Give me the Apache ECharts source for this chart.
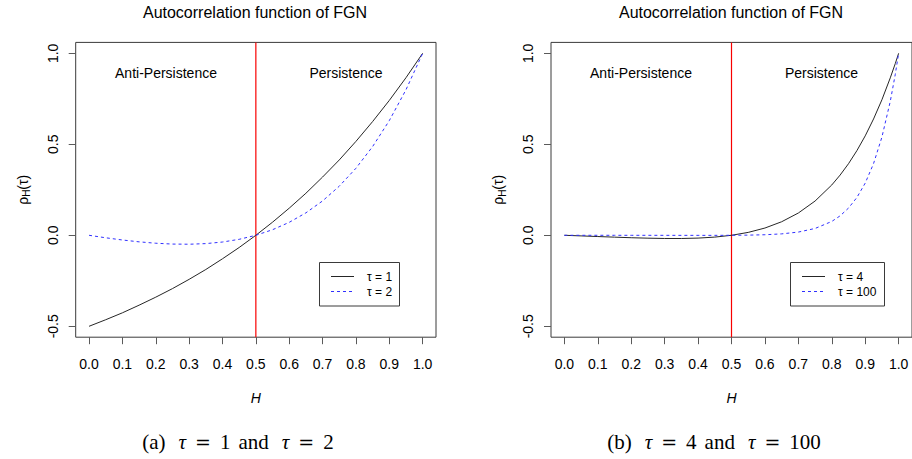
<!DOCTYPE html>
<html>
<head>
<meta charset="utf-8">
<script src="https://cdn.jsdelivr.net/npm/echarts@6/dist/echarts.min.js"></script>
<style>
  html, body { margin: 0; padding: 0; background: #ffffff; }
  #chart { width: 912px; height: 459px; }
</style>
</head>
<body>
<div id="chart"></div>
<script>
// Hurst exponent grid for panel (a)
const hGridA = [0, 0.05, 0.1, 0.15, 0.2, 0.25, 0.3, 0.35, 0.4, 0.45, 0.5,
                0.55, 0.6, 0.65, 0.7, 0.75, 0.8, 0.85, 0.9, 0.95, 1];
// FGN autocorrelation at lag 1 and lag 2
const rhoTau1 = [-0.5, -0.464, -0.426, -0.384, -0.340, -0.293, -0.242, -0.188, -0.129, -0.067, 0,
                 0.072, 0.149, 0.231, 0.320, 0.414, 0.516, 0.625, 0.741, 0.866, 1];
const rhoTau2 = [0, -0.0137, -0.0258, -0.0360, -0.0436, -0.0482, -0.0491, -0.0457, -0.0370, -0.0221, 0,
                 0.0306, 0.0712, 0.1233, 0.1888, 0.2697, 0.3683, 0.4875, 0.6301, 0.7997, 1];

// Hurst exponent grid for panel (b), denser where the curves steepen
const hGridB = [0, 0.05, 0.1, 0.15, 0.2, 0.25, 0.3, 0.35, 0.4, 0.45, 0.5,
                0.55, 0.6, 0.65, 0.7, 0.75, 0.8, 0.825, 0.85, 0.875, 0.9,
                0.925, 0.95, 0.975, 0.99, 1];
// FGN autocorrelation at lag 4 and lag 100
const rhoTau4 = [0, -0.0033, -0.0068, -0.0102, -0.0134, -0.0159, -0.0175, -0.0176, -0.0154, -0.0099, 0,
                 0.0159, 0.0399, 0.0744, 0.1225, 0.1882, 0.2765, 0.331, 0.3933, 0.4648, 0.5463,
                 0.6393, 0.7447, 0.8651, 0.9438, 1];
const rhoTau100 = [0, 0, 0, 0, -0.0001, -0.0001, -0.0002, -0.0003, -0.0003, -0.0003, 0,
                   0.0009, 0.0030, 0.0078, 0.0177, 0.0375, 0.0761, 0.1070, 0.1495, 0.2075, 0.2866,
                   0.3941, 0.5395, 0.7358, 0.8848, 1];

// Axis ticks
const hTicks = [0, 0.1, 0.2, 0.3, 0.4, 0.5, 0.6, 0.7, 0.8, 0.9, 1.0];
const rhoTicks = [-0.5, 0, 0.5, 1.0];

// Texts
const panelTitle = 'Autocorrelation function of FGN';
const regionNames = ['Anti-Persistence', 'Persistence'];
const lagNamesA = ['\u03c4 = 1', '\u03c4 = 2'];
const lagNamesB = ['\u03c4 = 4', '\u03c4 = 100'];
const captionLagsA = ['(a)', '1', '2'];
const captionLagsB = ['(b)', '4', '100'];

// H = 0.5 separates anti-persistent from persistent noise
const boundaryH = 0.5;

// Axis extents (data range padded by 4% on each side)
const H_MIN = -0.04, H_MAX = 1.04;
const RHO_MIN = -0.56, RHO_MAX = 1.06;

const SANS = '"Liberation Sans", Arial, Helvetica, sans-serif';
const SERIF = '"Liberation Serif", "Times New Roman", serif';
const BOUNDARY_RED = '#f80000';
const solidStyle = () => ({ color: '#262626', width: 1, type: 'solid' });
const dashStyle = () => ({ color: '#3030ff', width: 1, type: [3, 3] });
const frameColor = '#3a3a3a';
const tickColor = '#5a5a5a';

const chart = echarts.init(document.getElementById('chart'), null, { renderer: 'svg' });

function pairs(xs, ys) { return xs.map((x, i) => [x, ys[i]]); }

function makeGrid(left, width) {
  return {
    left: left, top: 42.4, width: width, height: 294.8,
    show: true, borderColor: frameColor, borderWidth: 1,
    backgroundColor: 'transparent', containLabel: false, outerBoundsMode: 'none'
  };
}

function makeXAxis(gridIndex) {
  return {
    type: 'value', gridIndex: gridIndex, min: H_MIN, max: H_MAX,
    name: 'H', nameLocation: 'middle', nameGap: 54,
    nameTextStyle: { fontFamily: SANS, fontSize: 14, fontStyle: 'italic', color: '#000' },
    axisLine: { show: false, onZero: false },
    axisTick: { show: true, customValues: hTicks, length: 7, lineStyle: { color: tickColor, width: 1 } },
    axisLabel: { customValues: hTicks, margin: 20, fontFamily: SANS, fontSize: 14, color: '#000',
                 formatter: v => v.toFixed(1) },
    splitLine: { show: false }
  };
}

function makeYAxis(gridIndex) {
  return {
    type: 'value', gridIndex: gridIndex, min: RHO_MIN, max: RHO_MAX,
    name: '{r|\u03c1}{s|H}{r|(\u03c4)}', nameLocation: 'middle', nameGap: 44,
    nameTextStyle: {
      color: '#000',
      rich: {
        r: { fontFamily: SANS, fontSize: 14, lineHeight: 18, color: '#000' },
        s: { fontFamily: SANS, fontSize: 10, lineHeight: 11, verticalAlign: 'bottom', color: '#000' }
      }
    },
    axisLine: { show: false, onZero: false },
    axisTick: { show: true, customValues: rhoTicks, length: 7, lineStyle: { color: tickColor, width: 1 } },
    axisLabel: { customValues: rhoTicks, rotate: 90, margin: 16, fontFamily: SANS, fontSize: 14, color: '#000',
                 formatter: v => v.toFixed(1) },
    splitLine: { show: false }
  };
}

// Vertical red rule at H = 0.5 spanning the full plotting region
function boundarySeries(idx) {
  return {
    type: 'line', xAxisIndex: idx, yAxisIndex: idx,
    data: [[boundaryH, RHO_MIN], [boundaryH, RHO_MAX]],
    showSymbol: false, symbol: 'none', silent: true, z: 2,
    lineStyle: { color: BOUNDARY_RED, width: 1.2, type: 'solid' }
  };
}

function makeSeries(idx, xs, ys, style) {
  return {
    type: 'line', xAxisIndex: idx, yAxisIndex: idx,
    data: pairs(xs, ys), showSymbol: false, symbol: 'none', smooth: false,
    lineStyle: style, silent: true, z: 3
  };
}

function legendBox(x, y, w, names) {
  const lx1 = x + 11.5, lx2 = x + 34.5, tx = x + 47.5;
  const y1 = y + 14, y2 = y + 29;
  return [
    { type: 'rect', shape: { x: x, y: y, width: w, height: 43.5 },
      style: { fill: '#ffffff', stroke: frameColor, lineWidth: 1 }, z: 20 },
    { type: 'line', shape: { x1: lx1, y1: y1, x2: lx2, y2: y1 },
      style: { stroke: solidStyle().color, lineWidth: 1 }, z: 21 },
    { type: 'line', shape: { x1: lx1, y1: y2, x2: lx2, y2: y2 },
      style: { stroke: dashStyle().color, lineWidth: 1, lineDash: [3, 3] }, z: 21 },
    { type: 'text', x: tx, y: y1, z: 21,
      style: { text: names[0], fontFamily: SANS, fontSize: 12, fill: '#000', verticalAlign: 'middle' } },
    { type: 'text', x: tx, y: y2, z: 21,
      style: { text: names[1], fontFamily: SANS, fontSize: 12, fill: '#000', verticalAlign: 'middle' } }
  ];
}

function regionText(x, text) {
  return { type: 'text', x: x, y: 73, z: 5,
           style: { text: text, fontFamily: SANS, fontSize: 14, fill: '#000', align: 'center', verticalAlign: 'middle' } };
}

const captionRich = {
  r: { fontFamily: SERIF, fontSize: 21, color: '#000' },
  t: { fontFamily: SERIF, fontSize: 21, fontStyle: 'italic', color: '#000', padding: [0, 0, 0, 13] },
  e: { fontFamily: '"DejaVu Serif", serif', fontSize: 19, color: '#000', padding: [0, 9, 0, 9] },
  w: { fontFamily: SERIF, fontSize: 21, color: '#000', padding: [0, 0, 0, 8] }
};

function caption(x, parts) {
  const txt = '{r|' + parts[0] + '}{t|\u03c4}{e|=}{r|' + parts[1] + '}{w|and}{t|\u03c4}{e|=}{r|' + parts[2] + '}';
  return { type: 'text', x: x, y: 442, z: 5,
           style: { text: txt, rich: captionRich, align: 'center', verticalAlign: 'middle' } };
}

const titleStyle = { fontFamily: SANS, fontSize: 16, fontWeight: 'normal', color: '#000' };

chart.setOption({
  animation: false,
  backgroundColor: '#ffffff',
  title: [
    { text: panelTitle, left: 255, top: 4, padding: 0, textAlign: 'center', textStyle: titleStyle },
    { text: panelTitle, left: 731, top: 4, padding: 0, textAlign: 'center', textStyle: titleStyle }
  ],
  grid: [makeGrid(75.7, 360.3), makeGrid(551, 361)],
  xAxis: [makeXAxis(0), makeXAxis(1)],
  yAxis: [makeYAxis(0), makeYAxis(1)],
  series: [
    boundarySeries(0),
    makeSeries(0, hGridA, rhoTau1, solidStyle()),
    makeSeries(0, hGridA, rhoTau2, dashStyle()),
    boundarySeries(1),
    makeSeries(1, hGridB, rhoTau4, solidStyle()),
    makeSeries(1, hGridB, rhoTau100, dashStyle())
  ],
  graphic: [
    regionText(166, regionNames[0]),
    regionText(346, regionNames[1]),
    regionText(641, regionNames[0]),
    regionText(821.5, regionNames[1]),
    ...legendBox(319.5, 262.5, 80, lagNamesA),
    ...legendBox(790.5, 262.5, 94, lagNamesB),
    caption(238, captionLagsA),
    caption(714, captionLagsB)
  ]
});
</script>
</body>
</html>
